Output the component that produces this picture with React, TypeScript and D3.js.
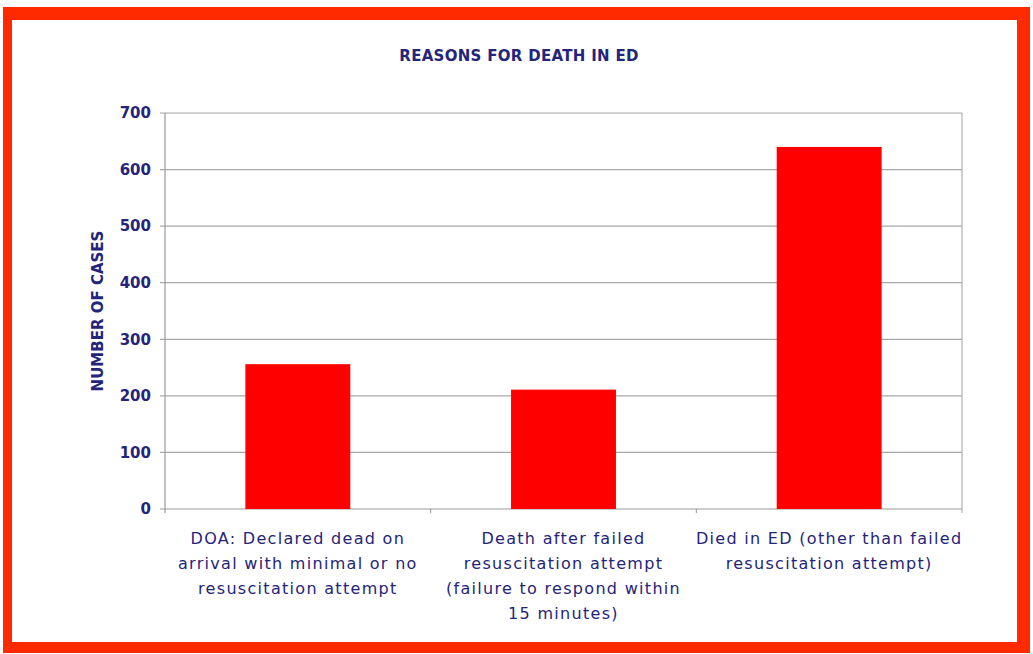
import React from "react";
import * as d3 from "d3";

const categories: string[][] = [
  ["DOA: Declared dead on", "arrival with minimal or no", "resuscitation attempt"],
  ["Death after failed", "resuscitation attempt", "(failure to respond within", "15 minutes)"],
  ["Died in ED (other than failed", "resuscitation attempt)"],
];
const values: number[] = [256, 211, 640];
const yTicks: number[] = [0, 100, 200, 300, 400, 500, 600, 700];
const title = "REASONS FOR DEATH IN ED";
const yTitle = "NUMBER OF CASES";

const W = 1033;
const H = 654;
const M = { left: 165, right: 962, top: 113, bottom: 509 };
const NAVY = "#24247a";
const FONT = "'DejaVu Sans', sans-serif";

export default function App() {
  const x = d3
    .scaleBand<number>()
    .domain(values.map((_, i) => i))
    .range([M.left, M.right])
    .paddingInner(0)
    .paddingOuter(0);
  const y = d3.scaleLinear().domain([0, 700]).range([M.bottom, M.top]);
  const barW = x.bandwidth() * 0.395;

  return (
    <svg
      width={W}
      height={H}
      style={{ position: "absolute", left: 0, top: 0, display: "block" }}
      fontFamily={FONT}
    >
      <rect x={0} y={0} width={W} height={H} fill="#ffffff" />
      <rect x={3} y={7} width={1027} height={646} fill="#ff2a00" />
      <rect x={12} y={20} width={1005} height={622} fill="#ffffff" />

      <text
        x={519}
        y={61}
        textAnchor="middle"
        fontSize={15}
        fontWeight="bold"
        letterSpacing={0.3}
        fill={NAVY}
      >
        {title}
      </text>

      {yTicks.map((t) => (
        <g key={t}>
          <line
            x1={M.left - 5}
            x2={M.right}
            y1={y(t)}
            y2={y(t)}
            stroke={t === 0 ? "#9a9a9a" : "#a8a8a8"}
            strokeWidth={1.2}
          />
          <text
            x={151}
            y={y(t)}
            dy="0.35em"
            textAnchor="end"
            fontSize={15}
            fontWeight="bold"
            fill={NAVY}
          >
            {t}
          </text>
        </g>
      ))}

      <line x1={M.left} x2={M.left} y1={M.top} y2={M.bottom + 4} stroke="#9a9a9a" strokeWidth={1.2} />
      <line x1={M.right} x2={M.right} y1={M.top} y2={M.bottom + 4} stroke="#b0b0b0" strokeWidth={1.2} />
      {values.map((_, i) =>
        i > 0 ? (
          <line
            key={"tk" + i}
            x1={x(i)!}
            x2={x(i)!}
            y1={M.bottom}
            y2={M.bottom + 4}
            stroke="#9a9a9a"
          />
        ) : null
      )}

      {values.map((v, i) => (
        <rect
          key={"b" + i}
          x={x(i)! + (x.bandwidth() - barW) / 2}
          y={y(v)}
          width={barW}
          height={y(0) - y(v)}
          fill="#ff0000"
        />
      ))}

      {categories.map((lines, i) => (
        <text
          key={"c" + i}
          x={x(i)! + x.bandwidth() / 2}
          y={544}
          textAnchor="middle"
          fontSize={16}
          letterSpacing={1.3}
          fill={NAVY}
        >
          {lines.map((l, j) => (
            <tspan key={j} x={x(i)! + x.bandwidth() / 2} dy={j === 0 ? 0 : 25}>
              {l}
            </tspan>
          ))}
        </text>
      ))}

      <text
        transform={`translate(103, ${(M.top + M.bottom) / 2}) rotate(-90)`}
        textAnchor="middle"
        fontSize={15}
        fontWeight="bold"
        fill={NAVY}
      >
        {yTitle}
      </text>
    </svg>
  );
}
